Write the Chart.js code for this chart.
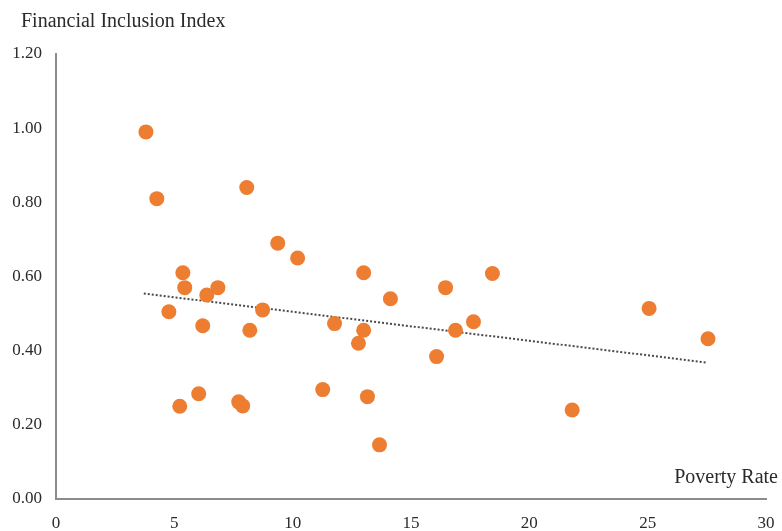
<!DOCTYPE html>
<html>
<head>
<meta charset="utf-8">
<script src="https://cdn.jsdelivr.net/npm/chart.js@4/dist/chart.umd.min.js"></script>
<style>
  html, body { margin: 0; padding: 0; background: #ffffff; }
  #wrap { width: 782px; height: 531px; position: relative; }
</style>
</head>
<body>
<div id="wrap"><canvas id="chart" width="782" height="531"></canvas></div>
<script>
// Poverty rate (x) and financial inclusion index (y) per observation
const povertyRate = [
  3.80, 4.26, 8.06, 9.37, 10.21, 13.00, 5.36, 5.44, 6.37, 6.84,
  4.77, 8.73, 6.20, 8.19, 11.77, 13.00, 12.78, 14.13, 5.23, 6.03,
  7.72, 7.89, 11.27, 13.16, 13.67, 18.44, 16.46, 17.64, 16.88, 16.08,
  25.06, 27.55, 21.81
];
const inclusionIndex = [
  0.99, 0.81, 0.84, 0.69, 0.65, 0.61, 0.61, 0.57, 0.55, 0.57,
  0.505, 0.51, 0.467, 0.455, 0.473, 0.455, 0.42, 0.54, 0.25, 0.284,
  0.262, 0.251, 0.295, 0.276, 0.146, 0.608, 0.57, 0.478, 0.455, 0.384,
  0.514, 0.432, 0.24
];

// Linear trend line end points
const trendX = [3.71, 27.5];
const trendY = [0.554, 0.368];

// Axis settings
const xTicks = [0, 5, 10, 15, 20, 25, 30];
const yTicks = [0, 0.2, 0.4, 0.6, 0.8, 1.0, 1.2];
const yAxisTitle = 'Financial Inclusion Index';
const xAxisTitle = 'Poverty Rate';

const FONT = '"Liberation Serif", "Times New Roman", serif';
const TEXT = '#2b2b2b';
const AXIS = '#8c8c8c';
const ORANGE = '#ED7D31';

const scatterPoints = povertyRate.map((x, i) => ({ x, y: inclusionIndex[i] }));
const trendPoints = trendX.map((x, i) => ({ x, y: trendY[i] }));

// Axis titles placed like a spreadsheet chart: top-left and bottom-right
const axisTitles = {
  id: 'axisTitles',
  afterDraw(chart) {
    const { ctx, chartArea } = chart;
    ctx.save();
    ctx.fillStyle = TEXT;
    ctx.font = '20px ' + FONT;
    ctx.textBaseline = 'middle';
    ctx.textAlign = 'left';
    ctx.fillText(yAxisTitle, 21, 22);
    ctx.textAlign = 'right';
    ctx.fillText(xAxisTitle, chart.width - 4, chartArea.bottom - 21);
    ctx.restore();
  }
};

new Chart(document.getElementById('chart'), {
  type: 'scatter',
  data: {
    datasets: [
      {
        label: 'Trend',
        type: 'line',
        data: trendPoints,
        borderColor: '#4a4a4a',
        borderWidth: 2,
        borderDash: [2, 2],
        pointRadius: 0,
        fill: false,
        order: 1
      },
      {
        label: 'Observations',
        data: scatterPoints,
        backgroundColor: ORANGE,
        borderColor: ORANGE,
        borderWidth: 0,
        pointRadius: 7.5,
        pointHoverRadius: 7.5,
        order: 0
      }
    ]
  },
  options: {
    responsive: false,
    animation: false,
    layout: { padding: { left: 0, top: 54, right: 16, bottom: 0 } },
    plugins: {
      legend: { display: false },
      tooltip: { enabled: false },
      title: { display: false }
    },
    scales: {
      x: {
        type: 'linear',
        min: 0,
        max: 30,
        afterBuildTicks(scale) { scale.ticks = xTicks.map(v => ({ value: v })); },
        afterFit(scale) {
          scale.height = 32;
          scale.paddingLeft = 0;
          scale.paddingRight = 0;
        },
        grid: { display: false, drawTicks: false },
        border: { display: true, color: AXIS, width: 2 },
        ticks: {
          color: TEXT,
          font: { family: FONT, size: 17 },
          padding: 14,
          maxRotation: 0,
          callback: v => String(v)
        }
      },
      y: {
        type: 'linear',
        min: 0,
        max: 1.2,
        afterBuildTicks(scale) { scale.ticks = yTicks.map(v => ({ value: v })); },
        afterFit(scale) {
          scale.width = 56;
          scale.paddingTop = 0;
          scale.paddingBottom = 0;
        },
        grid: { display: false, drawTicks: false },
        border: { display: true, color: AXIS, width: 2 },
        ticks: {
          color: TEXT,
          font: { family: FONT, size: 17 },
          padding: 14,
          callback: v => Number(v).toFixed(2)
        }
      }
    }
  },
  plugins: [axisTitles]
});
</script>
</body>
</html>
